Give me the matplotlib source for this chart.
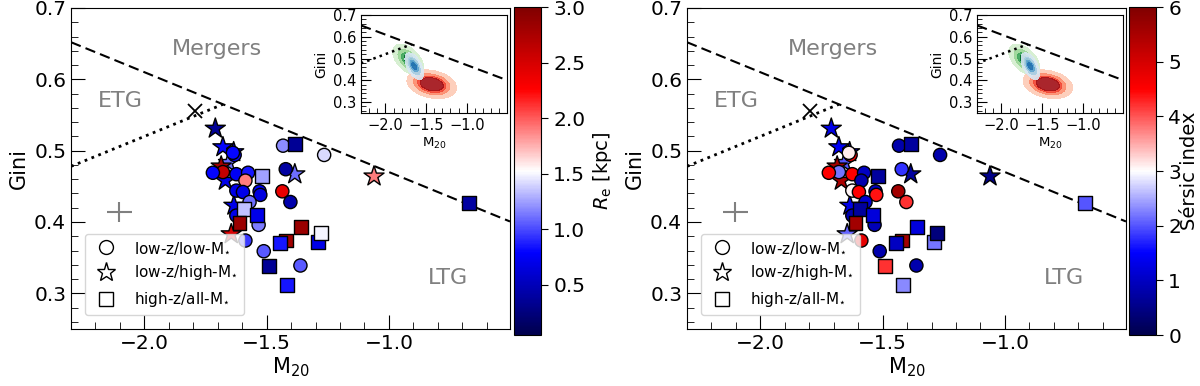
import numpy as np
import matplotlib
matplotlib.use('Agg')
import matplotlib.pyplot as plt
from matplotlib.colors import Normalize
from matplotlib.cm import ScalarMappable
from matplotlib.lines import Line2D
from matplotlib.ticker import MultipleLocator

plt.rcParams['font.family'] = 'DejaVu Sans'

# ---- data ----
# low-z / low-mass galaxies (circles)
circ_m20 = [-1.679, -1.433, -1.265, -1.422, -1.436, -1.403, -1.631, -1.638, -1.720,
            -1.624, -1.576, -1.587, -1.624, -1.597, -1.529, -1.526, -1.570, -1.624,
            -1.533, -1.587, -1.512, -1.362]
circ_gini = [0.470, 0.507, 0.494, 0.474, 0.443, 0.428, 0.494, 0.497, 0.469,
             0.467, 0.469, 0.458, 0.444, 0.442, 0.443, 0.438, 0.428, 0.409,
             0.396, 0.374, 0.359, 0.339]
circ_re = [2.6, 1.2, 1.42, 0.4, 2.4, 0.45, 0.8, 0.8, 0.8,
           0.75, 0.85, 1.9, 0.7, 0.7, 0.75, 0.65, 1.1, 0.7,
           1.15, 0.95, 1.05, 1.05]
circ_n = [2.2, 0.8, 0.8, 1.8, 5.6, 4.2, 4.6, 3.1, 4.5,
          4.5, 1.0, 0.8, 3.05, 4.5, 1.0, 4.4, 1.1, 0.8,
          0.9, 4.8, 0.8, 0.8]

# low-z / high-mass galaxies (stars)
star_m20 = [-1.635, -1.634, -1.710, -1.679, -1.656, -1.686, -1.669, -1.385, -1.061, -1.645]
star_gini = [0.498, 0.423, 0.531, 0.505, 0.483, 0.478, 0.458, 0.467, 0.464, 0.383]
star_re = [0.8, 0.7, 0.35, 0.8, 1.1, 2.8, 0.7, 1.1, 1.9, 2.5]
star_n = [1.5, 1.3, 1.3, 1.4, 2.0, 5.6, 5.5, 0.7, 0.5, 2.1]

# high-z / all-mass galaxies (squares)
sq_m20 = [-1.383, -1.518, -1.593, -1.538, -1.611, -1.358, -1.290, -1.279,
          -1.422, -1.447, -1.490, -1.417, -0.671]
sq_gini = [0.509, 0.465, 0.418, 0.410, 0.399, 0.393, 0.372, 0.384,
           0.374, 0.371, 0.338, 0.312, 0.426]
sq_re = [0.35, 1.25, 1.35, 0.7, 2.85, 2.85, 0.7, 1.5,
         2.8, 0.85, 0.35, 0.85, 0.4]
sq_n = [0.7, 0.7, 0.7, 1.2, 5.6, 1.2, 2.2, 0.4,
        5.6, 1.0, 4.2, 2.3, 2.0]

# Lotz et al. boundaries: Gini = a * M20 + b
merger_line = (-0.14, 0.33)
etg_line = (0.14, 0.80)

# inset density blobs: centre M20, centre Gini, sigma M20, sigma Gini, correlation
kde_green = (-1.72, 0.495, 0.075, 0.028, -0.5)
kde_blue = (-1.645, 0.465, 0.045, 0.024, -0.55)
kde_red = (-1.43, 0.382, 0.12, 0.026, -0.25)

xlim = (-2.3, -0.505)
ylim = (0.25, 0.7)

fig = plt.figure(figsize=(12, 3.86), dpi=100)


def boundaries(ax, lw_dash=1.5, lw_dot=2.0):
    x_int = (etg_line[1] - merger_line[1]) / (merger_line[0] - etg_line[0])
    xd = np.array(xlim)
    ax.plot(xd, merger_line[0] * xd + merger_line[1], color='k', lw=lw_dash,
            dashes=(5, 2.5))
    xo = np.array([xlim[0], x_int])
    ax.plot(xo, etg_line[0] * xo + etg_line[1], color='k', lw=lw_dot, ls=':')


def blob(ax, p, cmap, lev):
    gx, gy = np.meshgrid(np.linspace(-2.2, -0.9, 300), np.linspace(0.26, 0.65, 300))
    dx = (gx - p[0]) / p[2]
    dy = (gy - p[1]) / p[3]
    z = np.exp(-(dx**2 - 2 * p[4] * dx * dy + dy**2) / (2 * (1 - p[4]**2)))
    cm = plt.get_cmap(cmap)
    cols = [cm(c) for c in lev[1]]
    ax.contourf(gx, gy, z, levels=lev[0], colors=cols, alpha=0.9)


def panel(left, cleft, inleft, key, norm, cbticks, cblabel, pad):
    ax = fig.add_axes([left, 0.1477, 0.3658, 0.8316])
    cmap = plt.get_cmap('seismic')
    kw = dict(cmap=cmap, norm=norm, edgecolors='k', linewidths=1.0)
    cs = dict(re=(circ_re, star_re, sq_re), n=(circ_n, star_n, sq_n))[key]
    ax.scatter(star_m20, star_gini, c=cs[1], marker='*', s=230, zorder=3, **kw)
    ax.scatter(circ_m20, circ_gini, c=cs[0], marker='o', s=90, zorder=4, **kw)
    ax.scatter(sq_m20, sq_gini, c=cs[2], marker='s', s=100, zorder=5, **kw)
    boundaries(ax)
    ax.plot([-1.795], [0.555], marker='x', color='k', ms=10, mew=1.3)
    ax.errorbar([-2.102], [0.4136], xerr=0.052, yerr=0.014, color='grey', lw=1.5,
                capsize=0)
    ax.text(-1.705, 0.642, 'Mergers', color='grey', fontsize=16, ha='center', va='center')
    ax.text(-2.10, 0.570, 'ETG', color='grey', fontsize=16, ha='center', va='center')
    ax.text(-0.76, 0.322, 'LTG', color='grey', fontsize=16, ha='center', va='center')
    ax.set_xlim(xlim)
    ax.set_ylim(ylim)
    ax.xaxis.set_major_locator(MultipleLocator(0.5))
    ax.xaxis.set_minor_locator(MultipleLocator(0.1))
    ax.yaxis.set_major_locator(MultipleLocator(0.1))
    ax.yaxis.set_minor_locator(MultipleLocator(0.02))
    ax.tick_params(which='both', direction='in', labelsize=14.5)
    ax.tick_params(which='major', length=10)
    ax.tick_params(which='minor', length=5)
    ax.set_xlabel('M$_{20}$', fontsize=15, labelpad=2)
    ax.set_ylabel('Gini', fontsize=15)
    hl = [Line2D([], [], ls='', marker='o', mfc='w', mec='k', ms=10),
          Line2D([], [], ls='', marker='*', mfc='w', mec='k', ms=14),
          Line2D([], [], ls='', marker='s', mfc='w', mec='k', ms=10)]
    leg = ax.legend(hl, ['low-z/low-M$_{\\star}$', 'low-z/high-M$_{\\star}$',
                         'high-z/all-M$_{\\star}$'],
                    loc='lower left', fontsize=11, borderaxespad=0.9)
    leg.set_zorder(10)

    ins = fig.add_axes([inleft, 0.7073, 0.1217, 0.2539])
    blob(ins, kde_green, 'Greens', ([0.04, 0.25, 0.55, 0.8, 1.01], [0.2, 0.4, 0.65, 0.88]))
    blob(ins, kde_red, 'Reds', ([0.04, 0.18, 0.35, 0.5, 1.01], [0.2, 0.4, 0.6, 0.88]))
    blob(ins, kde_blue, 'Blues', ([0.04, 0.25, 0.55, 0.8, 1.01], [0.15, 0.35, 0.55, 0.75]))
    boundaries(ins, 1.5, 1.8)
    ins.set_xlim(xlim)
    ins.set_ylim(ylim)
    ins.xaxis.set_major_locator(MultipleLocator(0.5))
    ins.xaxis.set_minor_locator(MultipleLocator(0.1))
    ins.yaxis.set_major_locator(MultipleLocator(0.1))
    ins.yaxis.set_minor_locator(MultipleLocator(0.02))
    ins.tick_params(which='both', direction='in', labelsize=10.5)
    ins.tick_params(which='major', length=7)
    ins.tick_params(which='minor', length=3.5)
    ins.set_xlabel('M$_{20}$', fontsize=9.5, labelpad=2)
    ins.set_ylabel('Gini', fontsize=10, labelpad=3)

    cax = fig.add_axes([cleft, 0.1321, 0.0228, 0.8497])
    cb = fig.colorbar(ScalarMappable(norm=norm, cmap=cmap), cax=cax)
    cb.set_ticks(cbticks)
    cb.ax.tick_params(labelsize=14.5, length=5)
    cb.set_label(cblabel, fontsize=14, labelpad=pad)


panel(0.0592, 0.4283, 0.3008, 're', Normalize(0.05, 3.0),
      [0.5, 1.0, 1.5, 2.0, 2.5, 3.0], r'$R_{\rm e}$ [kpc]', 4)
panel(0.5725, 0.9408, 0.8142, 'n', Normalize(0, 6),
      [0, 1, 2, 3, 4, 5, 6], 'Sérsic index', -1)

fig.savefig('out.png', dpi=100)
